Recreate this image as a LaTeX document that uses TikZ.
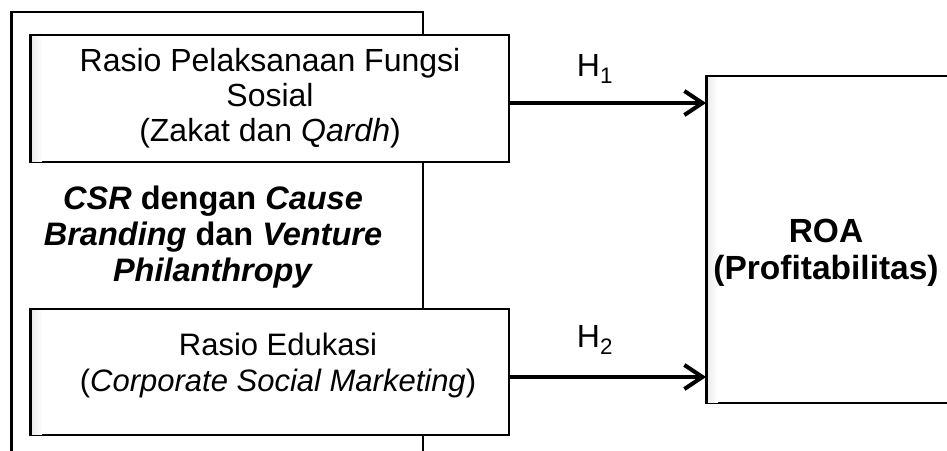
\documentclass[tikz,border=0pt]{standalone}
\usepackage{fontspec}
\setmainfont{Liberation Sans}
\usetikzlibrary{arrows.meta,calc}
\begin{document}
\begin{tikzpicture}[x=1pt,y=-1pt,
  box/.style={draw=black, line width=1.5pt, fill=white, inner sep=0pt, outer sep=0pt},
  txt/.style={align=center, font=\fontsize{32}{35}\selectfont, inner sep=0pt},
  stxt/.style={align=center, font=\fontsize{31}{36}\selectfont, inner sep=0pt},
  btxt/.style={align=center, font=\fontsize{32.5}{36}\selectfont\bfseries, inner sep=0pt},
  rtxt/.style={align=center, font=\fontsize{33.5}{37}\selectfont\bfseries, inner sep=0pt},
  arr/.style={line width=4pt, -{Straight Barb[length=18pt,width=24pt]}},
  fade/.style={left color=black!7, right color=white},
]
\useasboundingbox (0,0) rectangle (947,450);
\clip (0,0) rectangle (947,450);
\fill[white] (0,0) rectangle (947,450);
% outer frame
\coordinate (obl) at (11,470);
\coordinate (otl) at (11,12);
\coordinate (otr) at (423,12);
\coordinate (obr) at (423,470);
\draw[line width=1.5pt] (obl) -- (otl) -- (otr) -- (obr);
\draw[line width=3pt] (obl) -- (otl);
% inner boxes
\node[box, minimum width=479pt, minimum height=127pt] (top) at (269.5,98.5) {};
\node[box, minimum width=479pt, minimum height=126pt] (bot) at (269.5,372) {};
\node[box, minimum width=254pt, minimum height=327pt] (roa) at (833,239.5) {};
\shade[fade] ($(top.north west)+(2,1)$) rectangle ($(top.south west)+(12,-1)$);
\shade[fade] ($(bot.north west)+(2,1)$) rectangle ($(bot.south west)+(12,-1)$);
\shade[fade] ($(roa.north west)+(2,1)$) rectangle ($(roa.south west)+(12,-1)$);
\draw[line width=3pt] (top.north west) -- (top.south west);
\draw[line width=3pt] (bot.north west) -- (bot.south west);
\draw[line width=3pt] (roa.north west) -- (roa.south west);
% texts
\node[txt] (t1) at (270,98) {Rasio Pelaksanaan Fungsi\\Sosial\\(Zakat dan \textit{Qardh})};
\node[btxt] (csr) at (213,237) {\textit{CSR} dengan \textit{Cause}\\\textit{Branding} dan \textit{Venture}\\\textit{Philanthropy}};
\node[stxt] (t2) at (278,365) {Rasio Edukasi\\(\textit{Corporate Social Marketing})};
\node[rtxt] (troa) at (826,253) {ROA\\(Profitabilitas)};
% arrows
\path (top.east) ++(0,4.5) coordinate (a1);
\path (bot.east) ++(0,5) coordinate (a2);
\draw[arr] (a1) -- (a1 -| roa.west);
\draw[arr] (a2) -- (a2 -| roa.west);
\node[txt] (h1) at (595,69) {H\textsubscript{1}};
\node[txt] (h2) at (595,340) {H\textsubscript{2}};
\end{tikzpicture}
\end{document}
